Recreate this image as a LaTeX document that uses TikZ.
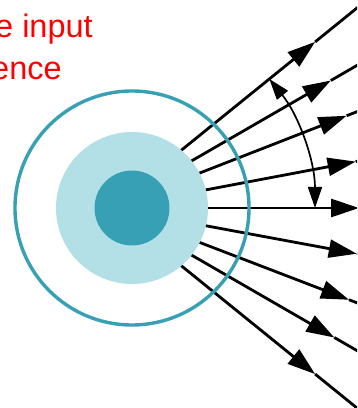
\documentclass[tikz,border=0pt]{standalone}
\usepackage{fontspec}
\setmainfont{Liberation Sans}
\usetikzlibrary{arrows.meta,calc}
\definecolor{RingC}{RGB}{56,160,180}
\definecolor{CoreC}{RGB}{56,160,180}
\definecolor{HaloC}{RGB}{179,224,230}
\tikzset{
  ray/.style={line width=2.8pt,black},
  rayhead/.style={ray,-{Triangle[length=28pt,width=18pt]}},
  span/.style={{Triangle[length=21pt,width=14pt]}-{Triangle[length=21pt,width=14pt]},
               line width=1.7pt,black},
  disc/.style={circle,inner sep=0pt,outer sep=0pt},
  caption/.style={font=\fontsize{32.5}{42}\selectfont,text=red,inner sep=0pt,anchor=base west},
}

\begin{document}
\begin{tikzpicture}[x=1pt,y=1pt]
  \useasboundingbox (0,0) rectangle (357,408);
  \clip (0,0) rectangle (357,408);
  \coordinate (focus) at (110,200);
  \coordinate (centre) at (132,200);
  % rays, heads half way
  \foreach \a/\r [count=\i] in {39/264,30/255,21.3/254,10.7/250,0/249,-10.5/251,-21/256,-30/259,-39/264}{
    \coordinate (root\i) at ($(focus)+(\a:60)$);
    \coordinate (tip\i) at ($(focus)+(\a:\r)$);
    \coordinate (end\i) at ($(focus)+(\a:420)$);
    \draw[rayhead] (root\i) -- (tip\i);
    \draw[ray] (tip\i) -- (end\i);
  }
  % discs
  \node[disc,fill=HaloC,minimum size=152pt] (halo) at (centre) {};
  \node[disc,fill=CoreC,minimum size=75pt] (core) at (centre) {};
  \node[disc,draw=RingC,line width=3.4pt,minimum size=234pt] (ring) at (centre) {};
  % angle between the rays
  \coordinate (spanA) at ($(focus)+(39:205)$);
  \draw[span] (spanA) arc[start angle=39,end angle=0,radius=205];
  % label
  \node[caption] (capA) at (-5,370) {e input};
  \node[caption] (capB) at (-9,328) {ence};
\end{tikzpicture}
\end{document}
